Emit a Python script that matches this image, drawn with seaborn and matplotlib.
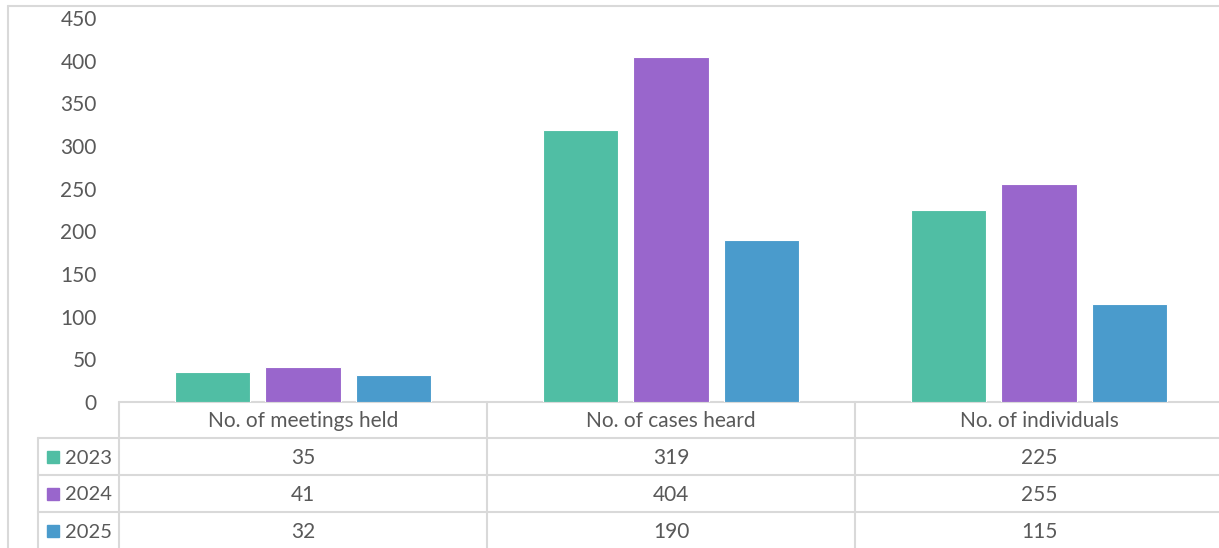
import pandas as pd
import matplotlib
matplotlib.use("Agg")
import matplotlib.pyplot as plt
import matplotlib.transforms as mtransforms
import seaborn as sns

# -----------------------------
# DATA
# -----------------------------
categories = ["No. of meetings held", "No. of cases heard", "No. of individuals"]
years = ["2023", "2024", "2025"]
values_2023 = [35, 319, 225]
values_2024 = [41, 404, 255]
values_2025 = [32, 190, 115]
y_ticks = [0, 50, 100, 150, 200, 250, 300, 350, 400, 450]

colors = ["#50BEA4", "#9966CC", "#4A9BCC"]
GRID = "#D9D9D9"
TEXT = "#595959"
FS = 15

series = [values_2023, values_2024, values_2025]
rows = []
for yr, vals in zip(years, series):
    for cat, v in zip(categories, vals):
        rows.append({"metric": cat, "year": yr, "value": v})
df = pd.DataFrame(rows)

# -----------------------------
# FIGURE
# -----------------------------
sns.set_style("white")
plt.rcParams["font.family"] = ["Lato", "DejaVu Sans"]

W, H = 1219, 548
fig = plt.figure(figsize=(W / 100, H / 100), dpi=100)

# background axes in pixel coordinates for frame + data table
tax = fig.add_axes([0, 0, 1, 1])
tax.set_xlim(0, W)
tax.set_ylim(H, 0)
tax.axis("off")

ax = fig.add_axes([119 / W, 146 / H, 1104 / W, 384 / H])
sns.barplot(
    data=df, x="metric", y="value", hue="year", order=categories,
    hue_order=years, palette=colors, saturation=1, width=0.734, gap=0.167,
    edgecolor="white", linewidth=0.8, legend=False, ax=ax,
)
ax.set_xlim(-0.5, 2.5)
ax.set_ylim(0, 450)
ax.set_yticks(y_ticks)
ax.set_yticklabels([str(t) for t in y_ticks], fontsize=FS, color=TEXT)
ax.tick_params(axis="y", length=0, pad=16)
ax.set_xticks([])
ax.set_xlabel("")
ax.set_ylabel("")
for s in ax.spines.values():
    s.set_visible(False)
ax.patch.set_alpha(0)

# outer frame
lw = 1.5
tax.plot([8, W], [6, 6], color=GRID, lw=lw)
tax.plot([8, 8], [6, H], color=GRID, lw=lw)

# table grid
row_y = [402, 438, 475, 512]
tax.plot([119, W], [row_y[0], row_y[0]], color=GRID, lw=lw)
for y in row_y[1:]:
    tax.plot([38, W], [y, y], color=GRID, lw=lw)
tax.plot([38, 38], [row_y[1], H], color=GRID, lw=lw)

blend = mtransforms.blended_transform_factory(ax.transData, tax.transData)
for i in range(len(categories) + 1):
    tax.plot([i - 0.5, i - 0.5], [row_y[0], H], color=GRID, lw=lw, transform=blend)

# header
for i, cat in enumerate(categories):
    tax.text(i, 421, cat, ha="center", va="center", fontsize=FS,
             color=TEXT, transform=blend)

# rows
row_centers = [458, 495, 532]
for yr, vals, c, yc in zip(years, series, colors, row_centers):
    tax.add_patch(plt.Rectangle((47, yc - 7), 12, 12, color=c))
    tax.text(65, yc, yr, ha="left", va="center", fontsize=14.5, color=TEXT)
    for i, v in enumerate(vals):
        tax.text(i, yc, str(v), ha="center", va="center", fontsize=FS,
                 color=TEXT, transform=blend)

fig.savefig("out.png", dpi=100)
plt.close(fig)
